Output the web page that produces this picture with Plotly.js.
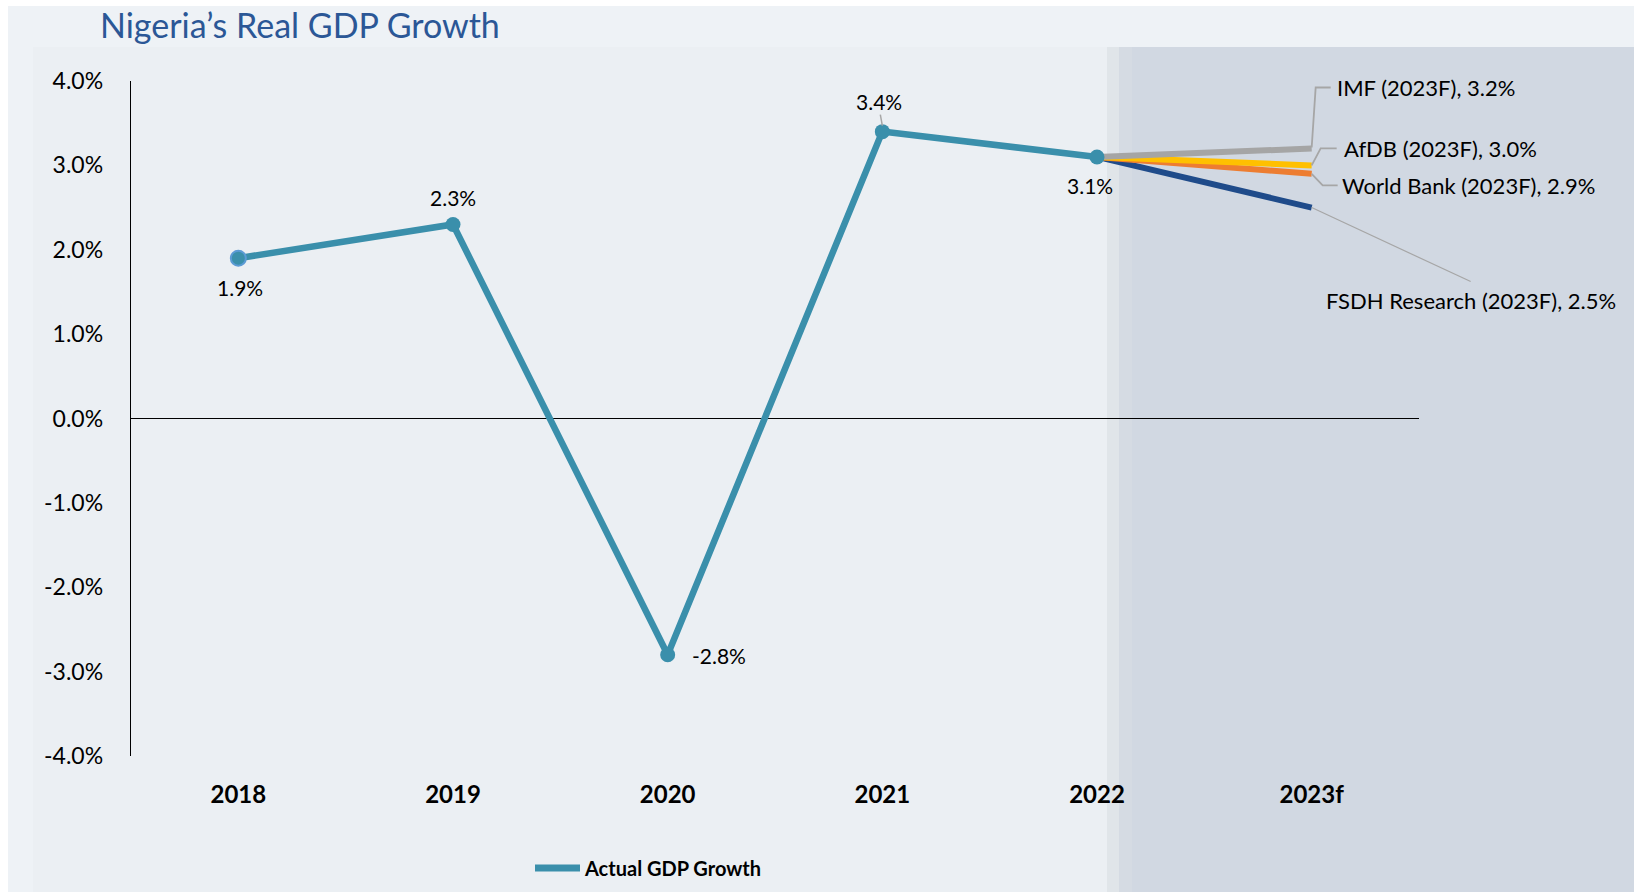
<!DOCTYPE html>
<html>
<head>
<meta charset="utf-8">
<script src="https://cdn.plot.ly/plotly-3.0.1.min.js"></script>
<style>
html,body{margin:0;padding:0;background:#ffffff;}
#chart{width:1634px;height:892px;}
</style>
</head>
<body>
<div id="chart"></div>
<script>
// ---- data ----
const categories = ['2018', '2019', '2020', '2021', '2022', '2023f'];
const actualGrowth = [1.9, 2.3, -2.8, 3.4, 3.1];
const forecastNames = ['IMF', 'AfDB', 'World Bank', 'FSDH Research'];
const forecastValues = [3.2, 3.0, 2.9, 2.5];
const yTickVals = [-4, -3, -2, -1, 0, 1, 2, 3, 4];
const yTickText = ['-4.0%', '-3.0%', '-2.0%', '-1.0%', '0.0%', '1.0%', '2.0%', '3.0%', '4.0%'];
const titleText = 'Nigeria\u2019s Real GDP Growth';
const legendName = 'Actual GDP Growth';

// ---- styles ----
const W = 1634, H = 892;
const M = {l: 131, r: 215, t: 81, b: 136, autoexpand: false};
const PW = W - M.l - M.r, PH = H - M.t - M.b;
const px2x = p => (p - M.l) / PW;
const px2y = p => (H - M.b - p) / PH;
const FONT = 'Lato, "Open Sans", sans-serif';
const teal = '#3a8fab';
const forecastColors = ['#a5a5a5', '#ffc000', '#ed7d31', '#1f4b8a'];
const drawOrder = [3, 2, 1, 0];
const fIdx = categories.length - 1;       // forecast category index
const lastIdx = actualGrowth.length - 1;  // last actual index
// label offsets (px) relative to each data point
const actualLabelShift = [
  {xs: 2, ys: -29, xa: 'center'},
  {xs: 0, ys: 27, xa: 'center'},
  {xs: 22, ys: -1, xa: 'left'},
  {xs: -3, ys: 30, xa: 'center'},
  {xs: -7, ys: -29, xa: 'center'}
];
const forecastLabelShift = [
  {xs: 23, ys: 61},
  {xs: 30, ys: 17},
  {xs: 28, ys: -11.5}
];
const forecastLeader = [
  'M0,1 L4,61 L19,61',
  'M0,0 L9,17 L25,17',
  'M0,0 L11,-11.5 L26,-11.5'
];

const traces = [];
drawOrder.forEach(i => {
  traces.push({
    type: 'scatter', mode: 'lines',
    x: [categories[lastIdx], categories[fIdx]],
    y: [actualGrowth[lastIdx], forecastValues[i]],
    line: {color: forecastColors[i], width: 6},
    showlegend: false, hoverinfo: 'skip'
  });
});
traces.push({
  type: 'scatter', mode: 'lines+markers',
  x: categories.slice(0, actualGrowth.length),
  y: actualGrowth,
  line: {color: teal, width: 6.5},
  marker: {size: 15, color: teal, line: {width: [2, 0, 0, 0, 0], color: ['#5b9bd5', teal, teal, teal, teal]}},
  showlegend: false
});
traces.push({
  type: 'scatter', mode: 'lines', name: legendName,
  x: [null], y: [null],
  line: {color: teal, width: 7},
  showlegend: true
});

const annotations = [];
actualGrowth.forEach((v, i) => {
  const s = actualLabelShift[i];
  annotations.push({
    x: i, y: v, xref: 'x', yref: 'y',
    text: v.toFixed(1) + '%',
    showarrow: false, xanchor: s.xa, yanchor: 'middle',
    xshift: s.xs, yshift: s.ys,
    font: {family: FONT, size: 21, color: '#000000'}
  });
});
forecastValues.forEach((v, i) => {
  const label = forecastNames[i] + ' (2023F), ' + v.toFixed(1) + '%';
  if (i < 3) {
    const s = forecastLabelShift[i];
    annotations.push({
      x: fIdx, y: v, xref: 'x', yref: 'y',
      text: label,
      showarrow: false, xanchor: 'left', yanchor: 'middle',
      xshift: s.xs, yshift: s.ys,
      font: {family: FONT, size: 22, color: '#000000'}
    });
  } else {
    annotations.push({
      x: fIdx, y: v, xref: 'x', yref: 'y',
      text: label,
      showarrow: true, arrowhead: 0, arrowwidth: 1.2, arrowcolor: '#a6a6a6',
      ax: 159, ay: 74, xanchor: 'center', yanchor: 'top', borderpad: 4,
      font: {family: FONT, size: 22, color: '#000000'}
    });
  }
});

const shapes = [
  {type: 'rect', xref: 'paper', yref: 'paper', layer: 'below',
   x0: px2x(8), x1: px2x(W), y0: px2y(H), y1: px2y(6), line: {width: 0}, fillcolor: '#eef2f6'},
  {type: 'rect', xref: 'paper', yref: 'paper', layer: 'below',
   x0: px2x(33), x1: px2x(W), y0: px2y(H), y1: px2y(47), line: {width: 0}, fillcolor: '#ebeff3'},
  {type: 'rect', xref: 'paper', yref: 'paper', layer: 'below',
   x0: px2x(1107), x1: px2x(1119), y0: px2y(H), y1: px2y(47), line: {width: 0}, fillcolor: '#e0e5e9'},
  {type: 'rect', xref: 'paper', yref: 'paper', layer: 'below',
   x0: px2x(1119), x1: px2x(1132), y0: px2y(H), y1: px2y(47), line: {width: 0}, fillcolor: '#d5dbe3'},
  {type: 'rect', xref: 'paper', yref: 'paper', layer: 'below',
   x0: px2x(1132), x1: px2x(W), y0: px2y(H), y1: px2y(47), line: {width: 0}, fillcolor: '#d1d8e2'}
];
forecastLeader.forEach((p, i) => {
  shapes.push({
    type: 'path', xref: 'x', yref: 'y', xsizemode: 'pixel', ysizemode: 'pixel',
    xanchor: fIdx, yanchor: forecastValues[i], path: p,
    line: {color: '#a6a6a6', width: 1.8}
  });
});
shapes.push({
  type: 'path', xref: 'x', yref: 'y', xsizemode: 'pixel', ysizemode: 'pixel',
  xanchor: 3, yanchor: actualGrowth[3], path: 'M0,6 L-2,17',
  line: {color: '#a6a6a6', width: 1.5}
});

const layout = {
  width: W, height: H,
  margin: M,
  paper_bgcolor: '#ffffff',
  plot_bgcolor: 'rgba(0,0,0,0)',
  font: {family: FONT, color: '#000000'},
  title: {
    text: titleText, xref: 'container', yref: 'container',
    x: 100 / W, y: 1 - 26 / H, xanchor: 'left', yanchor: 'middle',
    font: {family: FONT, size: 34, color: '#2b5796'}
  },
  xaxis: {
    type: 'category', range: [-0.5, 5.5], categoryorder: 'array', categoryarray: categories,
    showgrid: false, zeroline: false, showline: false, ticks: '', automargin: false,
    tickfont: {family: FONT, size: 24, color: '#000000', weight: 'bold'},
    ticklabelstandoff: 22, fixedrange: true
  },
  yaxis: {
    range: [-4, 4], tickvals: yTickVals, ticktext: yTickText, automargin: false,
    showgrid: false, zeroline: true, zerolinecolor: '#000000', zerolinewidth: 1.3,
    showline: true, linecolor: '#000000', linewidth: 1.3, ticks: '',
    tickfont: {family: FONT, size: 23, color: '#000000'},
    ticklabelstandoff: 22, fixedrange: true
  },
  showlegend: true,
  legend: {
    x: px2x(530), y: px2y(868), xanchor: 'left', yanchor: 'middle',
    orientation: 'h', bgcolor: 'rgba(0,0,0,0)', itemwidth: 45,
    font: {family: FONT, size: 20, color: '#000000', weight: 'bold'}
  },
  annotations: annotations,
  shapes: shapes
};

Plotly.newPlot('chart', traces, layout, {displayModeBar: false, staticPlot: true});
</script>
</body>
</html>
